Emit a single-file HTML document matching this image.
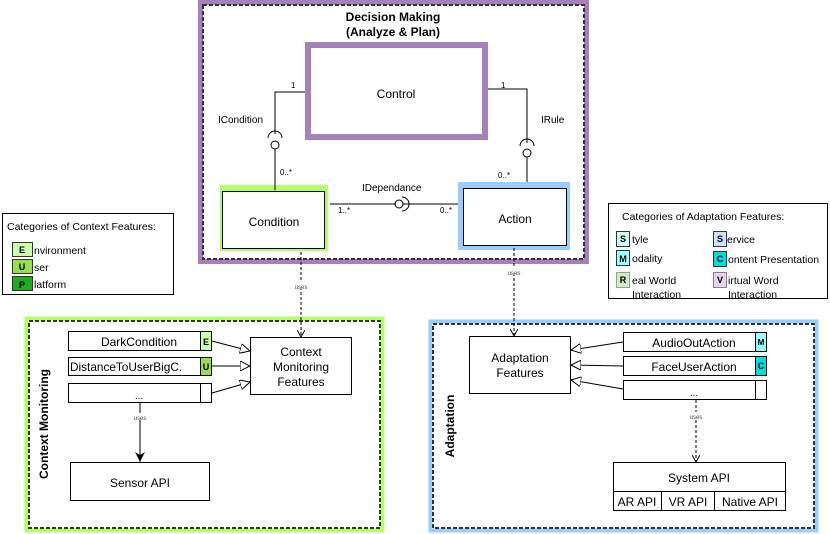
<!DOCTYPE html>
<html><head><meta charset="utf-8"><style>body{margin:0;background:#fff}svg{display:block}text{font-family:"Liberation Sans",sans-serif}</style></head><body>
<svg width="830" height="534" viewBox="0 0 830 534" xmlns="http://www.w3.org/2000/svg">
<defs>
<marker id="tri" viewBox="0 0 10 10" refX="10" refY="5" markerWidth="10" markerHeight="10" markerUnits="userSpaceOnUse" orient="auto"><path d="M0,0 L10,5 L0,10 Z" fill="#fff" stroke="#000" stroke-width="1"/></marker>
<marker id="open" viewBox="0 0 10 10" refX="9" refY="5" markerWidth="8" markerHeight="8" markerUnits="userSpaceOnUse" orient="auto"><path d="M0,0 L9,5 L0,10" fill="none" stroke="#000" stroke-width="1.2"/></marker>
<marker id="fill" viewBox="0 0 10 10" refX="10" refY="5" markerWidth="10" markerHeight="10" markerUnits="userSpaceOnUse" orient="auto"><path d="M0,0 L10,5 L0,10 L3,5 Z" fill="#000"/></marker>
</defs>
<!-- Decision Making -->
<rect x="200.5" y="2.5" width="386" height="259" fill="#fff" stroke="#a680b8" stroke-width="5"/>
<rect x="203" y="5" width="381" height="254" fill="none" stroke="#333" stroke-width="2" stroke-dasharray="4,2"/>
<text x="393" y="21" font-size="12" font-weight="bold" text-anchor="middle">Decision Making</text>
<text x="393" y="36" font-size="12" font-weight="bold" text-anchor="middle">(Analyze &amp; Plan)</text>
<rect x="308" y="45" width="177" height="92" fill="#fff" stroke="#a680b8" stroke-width="6"/>
<text x="396" y="98" font-size="12" text-anchor="middle">Control</text>
<rect x="220" y="185" width="108" height="66" fill="#b3ff66"/>
<rect x="222.5" y="191.5" width="102" height="57" fill="#fff" stroke="#000"/>
<text x="274" y="226" font-size="12" text-anchor="middle">Condition</text>
<rect x="458" y="182" width="112" height="68" fill="#99ccff"/>
<rect x="463.5" y="188.5" width="103" height="57" fill="#fff" stroke="#000"/>
<text x="515" y="223" font-size="12" text-anchor="middle">Action</text>
<g fill="none" stroke="#000" stroke-width="1">
<path d="M305,92 H275 V134"/><circle cx="275" cy="145" r="4"/><path d="M275,149 V190"/><path d="M268,138 A7,7 0 0 1 282,138"/>
<path d="M488,89 H527 V143"/><circle cx="527" cy="153" r="4"/><path d="M527,157 V182"/><path d="M520,146 A7,7 0 0 1 534,146"/>
<path d="M330,204 H396"/><circle cx="399" cy="204" r="4"/><path d="M403,204 H458"/><path d="M402,197 A7,7 0 0 1 402,211"/>
</g>
<g font-size="8"><text x="291" y="88">1</text><text x="501" y="88">1</text><text x="280" y="175">0..*</text><text x="498" y="178">0..*</text><text x="338" y="213">1..*</text><text x="440" y="213">0..*</text></g>
<g font-size="10"><text x="218" y="123">ICondition</text><text x="541" y="123">IRule</text><text x="362" y="191">IDependance</text></g>
<!-- Context legend -->
<rect x="2.5" y="213.5" width="171" height="81" fill="#fff" stroke="#000"/>
<text x="7" y="230" font-size="10.5">Categories of Context Features:</text>
<g font-size="10.5"><rect x="12.5" y="242.5" width="20" height="14" fill="#ccffaa" stroke="#333"/><text x="22" y="253" font-weight="bold" font-size="9" text-anchor="middle">E</text><text x="34" y="254">nvironment</text>
<rect x="12.5" y="259.5" width="20" height="14" fill="#99dd55" stroke="#333"/><text x="22" y="270" font-weight="bold" font-size="9" text-anchor="middle">U</text><text x="34" y="271">ser</text>
<rect x="12.5" y="276.5" width="20" height="14" fill="#22aa22" stroke="#333"/><text x="22" y="288" font-weight="bold" font-size="9" text-anchor="middle">P</text><text x="34" y="288">latform</text></g>
<!-- Adaptation legend -->
<rect x="608.5" y="203.5" width="219" height="95" fill="#fff" stroke="#000"/>
<text x="622" y="220" font-size="10.5">Categories of Adaptation Features:</text>
<g font-size="10.5">
<rect x="616.5" y="231.5" width="13" height="15" fill="#ccffee" stroke="#333"/><text x="623" y="242" font-weight="bold" font-size="9" text-anchor="middle">S</text><text x="632" y="243">tyle</text>
<rect x="616.5" y="250.5" width="13" height="15" fill="#99ffff" stroke="#333"/><text x="623" y="262" font-weight="bold" font-size="9" text-anchor="middle">M</text><text x="632" y="262">odality</text>
<rect x="616.5" y="272.5" width="13" height="15" fill="#d5e8d4" stroke="#82b366"/><text x="623" y="283" font-weight="bold" font-size="9" text-anchor="middle">R</text><text x="632" y="284">eal World</text><text x="632" y="298">Interaction</text>
<rect x="713.5" y="231.5" width="13" height="15" fill="#cce0ff" stroke="#333"/><text x="720" y="242" font-weight="bold" font-size="9" text-anchor="middle">S</text><text x="727" y="243">ervice</text>
<rect x="713.5" y="251.5" width="13" height="15" fill="#00dddd" stroke="#333"/><text x="720" y="262" font-weight="bold" font-size="9" text-anchor="middle">C</text><text x="728" y="263">ontent Presentation</text>
<rect x="713.5" y="272.5" width="13" height="15" fill="#e1d5e7" stroke="#9673a6"/><text x="720" y="283" font-weight="bold" font-size="9" text-anchor="middle">V</text><text x="728" y="284">irtual Word</text><text x="728" y="298">Interaction</text>
</g>
<!-- Context Monitoring -->
<rect x="26.5" y="318.5" width="356" height="212" fill="#fff" stroke="#b3ff66" stroke-width="4"/>
<rect x="29" y="321" width="351" height="207" fill="none" stroke="#333" stroke-width="2" stroke-dasharray="4,2"/>
<text transform="translate(48,424) rotate(-90)" font-size="12" font-weight="bold" text-anchor="middle">Context Monitoring</text>
<g font-size="12">
<rect x="68.5" y="331.5" width="143" height="19" fill="#fff" stroke="#000"/><rect x="200.5" y="331.5" width="11" height="19" fill="#ccffaa" stroke="#000"/><text x="139" y="346" text-anchor="middle">DarkCondition</text><text x="206" y="345" font-size="9" font-weight="bold" text-anchor="middle">E</text>
<rect x="68.5" y="357.5" width="143" height="18" fill="#fff" stroke="#000"/><rect x="200.5" y="357.5" width="11" height="18" fill="#99dd55" stroke="#000"/><text x="70" y="371" font-size="11.8">DistanceToUserBigC.</text><text x="206" y="370" font-size="9" font-weight="bold" text-anchor="middle">U</text>
<rect x="68.5" y="383.5" width="143" height="19" fill="#fff" stroke="#000"/><rect x="200.5" y="383.5" width="11" height="19" fill="#fff" stroke="#000"/><text x="139" y="399" text-anchor="middle" font-size="10">...</text>
<rect x="250.5" y="337.5" width="101" height="57" fill="#fff" stroke="#000"/><text x="301" y="356" text-anchor="middle">Context</text><text x="301" y="371" text-anchor="middle">Monitoring</text><text x="301" y="386" text-anchor="middle">Features</text>
<rect x="70.5" y="462.5" width="139" height="38" fill="#fff" stroke="#000"/><text x="140" y="487" text-anchor="middle">Sensor API</text>
</g>
<g stroke="#000" stroke-width="1" fill="none">
<path d="M212,341 L250,351" marker-end="url(#tri)"/><path d="M212,366 L250,366" marker-end="url(#tri)"/><path d="M212,393 L250,382" marker-end="url(#tri)"/>
<path d="M140,403 V462" marker-end="url(#fill)"/>
<path d="M301,252 V337" stroke-dasharray="3,2" marker-end="url(#open)"/>
</g>
<!-- Adaptation -->
<rect x="430.5" y="321.5" width="386" height="209" fill="#fff" stroke="#99ccff" stroke-width="4"/>
<rect x="433" y="324" width="381" height="204" fill="none" stroke="#333" stroke-width="2" stroke-dasharray="4,2"/>
<text transform="translate(454,426) rotate(-90)" font-size="12" font-weight="bold" text-anchor="middle">Adaptation</text>
<g font-size="12">
<rect x="469.5" y="336.5" width="101" height="57" fill="#fff" stroke="#000"/><text x="520" y="362" text-anchor="middle">Adaptation</text><text x="520" y="377" text-anchor="middle">Features</text>
<rect x="623.5" y="332.5" width="143" height="19" fill="#fff" stroke="#000"/><rect x="755.5" y="332.5" width="11" height="19" fill="#99ffff" stroke="#000"/><text x="694" y="347" text-anchor="middle">AudioOutAction</text><text x="761" y="345" font-size="8" font-weight="bold" text-anchor="middle">M</text>
<rect x="623.5" y="356.5" width="143" height="19" fill="#fff" stroke="#000"/><rect x="755.5" y="356.5" width="11" height="19" fill="#00dddd" stroke="#000"/><text x="694" y="371" text-anchor="middle">FaceUserAction</text><text x="761" y="369" font-size="9" font-weight="bold" text-anchor="middle">C</text>
<rect x="623.5" y="380.5" width="143" height="19" fill="#fff" stroke="#000"/><rect x="755.5" y="380.5" width="11" height="19" fill="#fff" stroke="#000"/><text x="694" y="396" text-anchor="middle" font-size="10">...</text>
<rect x="613.5" y="462.5" width="172" height="48" fill="#fff" stroke="#000"/><path d="M613.5,491.5 H785.5 M661.5,491.5 V510.5 M714.5,491.5 V510.5" stroke="#000" fill="none"/>
<text x="699" y="482" text-anchor="middle">System API</text><text x="637" y="506" text-anchor="middle">AR API</text><text x="688" y="506" text-anchor="middle">VR API</text><text x="750" y="506" text-anchor="middle">Native API</text>
</g>
<g stroke="#000" stroke-width="1" fill="none">
<path d="M623,342 L571,350" marker-end="url(#tri)"/><path d="M623,366 L571,365" marker-end="url(#tri)"/><path d="M623,389 L571,380" marker-end="url(#tri)"/>
<path d="M514,248 V336" stroke-dasharray="3,2" marker-end="url(#open)"/>
<path d="M696,400 V462" stroke-dasharray="3,2" marker-end="url(#open)"/>
</g>
<g font-size="6" fill="#444" text-anchor="middle">
<rect x="293" y="282" width="16" height="7" fill="#fff"/><text x="301" y="289">uses</text>
<rect x="132" y="413" width="16" height="7" fill="#fff"/><text x="140" y="420">uses</text>
<rect x="506" y="268" width="16" height="7" fill="#fff"/><text x="514" y="275">uses</text>
<rect x="688" y="412" width="16" height="7" fill="#fff"/><text x="696" y="419">uses</text>
</g>
</svg>
</body></html>
